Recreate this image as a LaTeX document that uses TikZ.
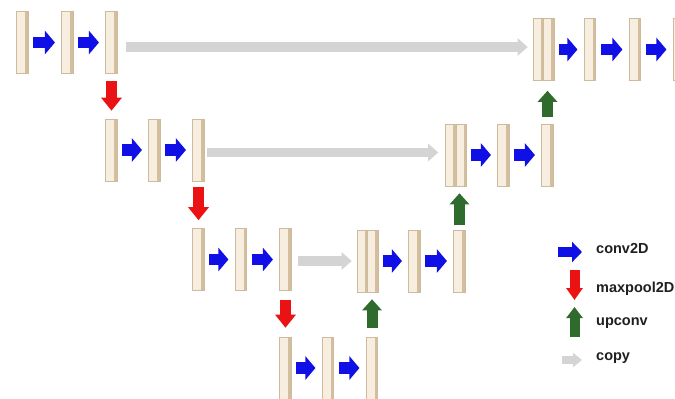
\documentclass[tikz,border=0pt]{standalone}
\usepackage{fontspec}
\newfontfamily\legfont{Liberation Sans}
\usetikzlibrary{arrows.meta}
\definecolor{barfill}{HTML}{F8EEDF}
\definecolor{baredge}{HTML}{CDBBA0}
\definecolor{barside}{HTML}{D3BE9E}
\definecolor{cblue}{HTML}{0F0FE6}
\definecolor{cred}{HTML}{EA1212}
\definecolor{cgreen}{HTML}{2E6B2C}
\definecolor{cgray}{HTML}{D4D4D4}
\tikzset{
  bar/.style={rectangle, inner sep=0pt, minimum width=11.5pt, minimum height=62pt,
    fill=barfill, draw=baredge, line width=0.6pt,
    path picture={\fill[barside] ([xshift=-3pt]path picture bounding box.north east) rectangle (path picture bounding box.south east);}},
  hbar/.style={bar, minimum width=10.5pt},
  conv/.style={draw=cblue, line width=11.5pt, -{Triangle[length=10pt,width=23pt]}, shorten <=4.5pt, shorten >=6.5pt},
  pool/.style={draw=cred, line width=11pt, -{Triangle[length=13pt,width=20pt]}, shorten <=7pt, shorten >=8pt},
  up/.style={draw=cgreen, line width=11pt, -{Triangle[length=11pt,width=19pt]}, shorten <=6pt, shorten >=9pt},
  copyar/.style={draw=cgray, line width=9.5pt, -{Triangle[length=10pt,width=17pt]}, shorten <=7pt, shorten >=5pt},
  legtext/.style={anchor=base west, inner sep=0pt, font=\legfont\bfseries\fontsize{14.5}{16}\selectfont, text=black!88}
}
\begin{document}
\begin{tikzpicture}[x=1pt,y=-1pt]
\useasboundingbox (0,0) rectangle (675,399);
\clip (0,0) rectangle (675,399);
% row 1
\node[bar] (a1) at (22.5,42.5) {};
\node[bar] (a2) at (67.5,42.5) {};
\node[bar] (a3) at (111.5,42.5) {};
\node[hbar] (d1a) at (538.25,49.5) {};
\node[hbar] (d1b) at (548.75,49.5) {};
\node[bar] (e1) at (590,49.5) {};
\node[bar] (e2) at (635,49.5) {};
\node[bar] (e3) at (679,49.5) {};
% row 2
\node[bar] (b1) at (111.5,150) {};
\node[bar] (b2) at (154.5,150) {};
\node[bar] (b3) at (198.5,150) {};
\node[hbar] (f0a) at (450.75,155) {};
\node[hbar] (f0b) at (461.25,155) {};
\node[bar] (f1) at (503.5,155) {};
\node[bar] (f2) at (547.5,155) {};
% row 3
\node[bar] (c1) at (198.5,259.5) {};
\node[bar] (c2) at (241,259.5) {};
\node[bar] (c3) at (285.5,259.5) {};
\node[hbar] (g0a) at (362.25,261) {};
\node[hbar] (g0b) at (372.75,261) {};
\node[bar] (g1) at (414.5,261) {};
\node[bar] (g2) at (459.5,261) {};
% row 4
\node[bar] (h1) at (285.5,368) {};
\node[bar] (h2) at (328,368) {};
\node[bar] (h3) at (372,368) {};
% copy levels
\coordinate (cy1) at (0,47);
\coordinate (cy2) at (0,152.5);
\coordinate (cy3) at (0,261);
% conv arrows
\draw[conv] (a1.east) -- (a2.west);
\draw[conv] (a2.east) -- (a3.west);
\draw[conv] (d1b.east) -- (e1.west);
\draw[conv] (e1.east) -- (e2.west);
\draw[conv] (e2.east) -- (e3.west);
\draw[conv] (b1.east) -- (b2.west);
\draw[conv] (b2.east) -- (b3.west);
\draw[conv] (f0b.east) -- (f1.west);
\draw[conv] (f1.east) -- (f2.west);
\draw[conv] (c1.east) -- (c2.west);
\draw[conv] (c2.east) -- (c3.west);
\draw[conv] (g0b.east) -- (g1.west);
\draw[conv] (g1.east) -- (g2.west);
\draw[conv] (h1.east) -- (h2.west);
\draw[conv] (h2.east) -- (h3.west);
% copy arrows
\draw[copyar, shorten <=8pt] (a3.east |- cy1) -- (d1a.west |- cy1);
\draw[copyar, shorten <=2pt, shorten >=7pt] (b3.east |- cy2) -- (f0a.west |- cy2);
\draw[copyar, shorten <=6pt, shorten >=5pt] (c3.east |- cy3) -- (g0a.west |- cy3);
% maxpool arrows
\draw[pool] (a3.south) -- (b1.north);
\draw[pool, shorten <=6pt] (b3.south) -- (c1.north);
\draw[pool, shorten <=9pt, shorten >=9pt] (c3.south) -- (h1.north);
% upconv arrows
\draw[up, shorten <=7pt, shorten >=10pt] (f2.north) -- (f2.north |- d1a.south);
\draw[up, shorten <=5pt, shorten >=7pt] (g2.north) -- (g2.north |- f0a.south);
\draw[up, shorten <=9pt, shorten >=7pt] (h3.north) -- (h3.north |- g0a.south);
% legend
\coordinate (lc1) at (558,252);
\coordinate (lc2) at (582,252);
\coordinate (lp1) at (574.5,270);
\coordinate (lp2) at (574.5,300);
\coordinate (lu1) at (574.5,337);
\coordinate (lu2) at (574.5,307);
\coordinate (lk1) at (562,360);
\coordinate (lk2) at (582,360);
\draw[draw=cblue, line width=10pt, -{Triangle[length=10pt,width=20pt]}] (lc1) -- (lc2);
\draw[draw=cred, line width=10pt, -{Triangle[length=12pt,width=16pt]}] (lp1) -- (lp2);
\draw[draw=cgreen, line width=10pt, -{Triangle[length=11pt,width=16pt]}] (lu1) -- (lu2);
\draw[draw=cgray, line width=8pt, -{Triangle[length=9pt,width=14pt]}] (lk1) -- (lk2);
\node[legtext] (tconv) at (596,253) {conv2D};
\node[legtext] (tpool) at (596,292) {maxpool2D};
\node[legtext] (tup) at (596,325) {upconv};
\node[legtext] (tcopy) at (596,360) {copy};
\end{tikzpicture}
\end{document}
